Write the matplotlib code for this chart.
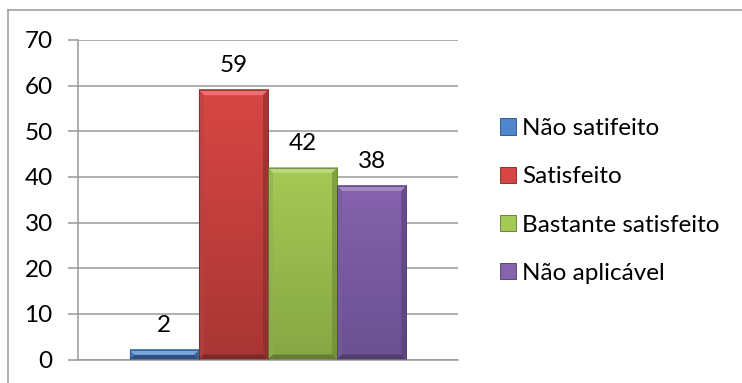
import numpy as np
import matplotlib.pyplot as plt
from matplotlib.patches import Polygon, Patch
from matplotlib.colors import to_rgb
from matplotlib.lines import Line2D

plt.rcParams['font.family'] = ['Lato', 'DejaVu Sans']

# Survey answers, one series per option
labels = ["Não satifeito", "Satisfeito", "Bastante satisfeito", "Não aplicável"]
values = [2, 59, 42, 38]
yticks = [0, 10, 20, 30, 40, 50, 60, 70]

# top / bottom shades of each bar face
face_top = ["#4F87CF", "#D84644", "#A5C955", "#8563AD"]
face_bot = ["#3C6BAA", "#A83634", "#86A744", "#6A5091"]

GRID = "#999999"
FS = 17.5


def shade(color, f):
    r = np.array(to_rgb(color))
    if f >= 0:
        return tuple(r + (1 - r) * f)
    return tuple(r * (1 + f))


def bevel_bar(ax, x0, w, h, ctop, cbot, bpx=5):
    # pixel -> data scale for the bevel edges
    p0 = ax.transData.transform((0, 0))
    p1 = ax.transData.transform((1, 1))
    bx = bpx / (p1[0] - p0[0])
    by = bpx / (p1[1] - p0[1])
    bx = min(bx, w / 2)
    by = min(by, h / 2)
    x1 = x0 + w
    # face with vertical gradient
    grad = np.linspace(0, 1, 64)[:, None]
    top = np.array(to_rgb(ctop))
    bot = np.array(to_rgb(cbot))
    img = (bot + (top - bot) * grad).reshape(64, 1, 3)
    ax.imshow(img, extent=(x0, x1, 0, h), origin="lower", aspect="auto", zorder=2)
    # bevel edges
    ax.add_patch(Polygon([(x0, h), (x1, h), (x1 - bx, h - by), (x0 + bx, h - by)],
                         closed=True, fc=shade(ctop, 0.25), ec="none", zorder=3))
    ax.add_patch(Polygon([(x0, 0), (x0 + bx, by), (x0 + bx, h - by), (x0, h)],
                         closed=True, fc=shade(cbot, 0.08), ec="none", alpha=0.6, zorder=3))
    ax.add_patch(Polygon([(x1, 0), (x1 - bx, by), (x1 - bx, h - by), (x1, h)],
                         closed=True, fc=shade(cbot, -0.2), ec="none", alpha=0.6, zorder=3))
    ax.add_patch(Polygon([(x0, 0), (x1, 0), (x1 - bx, by), (x0 + bx, by)],
                         closed=True, fc=shade(cbot, -0.25), ec="none", zorder=3))
    ax.add_patch(Polygon([(x0, 0), (x0, h), (x1, h), (x1, 0)], closed=True,
                         fc="none", ec=shade(cbot, -0.3), lw=0.5, zorder=4))


fig = plt.figure(figsize=(7.42, 3.83), dpi=100)
ax = fig.add_axes([78 / 742, 1 - 359.5 / 383, 380 / 742, 319.5 / 383])

n = len(values)
xpos = np.arange(n) - (n - 1) / 2
ax.set_xlim(-2.75, 2.75)
ax.set_ylim(0, 70)

for x, v, ct, cb in zip(xpos, values, face_top, face_bot):
    bevel_bar(ax, x - 0.5, 1.0, v, ct, cb)
    ax.annotate(str(v), (x, v), xytext=(0, 13), textcoords="offset points",
                ha="center", va="baseline", fontsize=FS, color="black")

ax.set_yticks(yticks)
ax.set_xticks([])
ax.yaxis.grid(True, color=GRID, lw=1.1)
ax.set_axisbelow(True)
for s in ["top", "right"]:
    ax.spines[s].set_visible(False)
for s in ["left", "bottom"]:
    ax.spines[s].set_color(GRID)
    ax.spines[s].set_linewidth(1.1)
ax.tick_params(axis="y", length=7.2, width=1.1, color=GRID, pad=11, labelsize=FS)

handles = [Patch(fc=ct, ec=shade(cb, -0.3), lw=0.6) for ct, cb in zip(face_top, face_bot)]
fig.legend(handles, labels, loc="center left", bbox_to_anchor=(500 / 742, 1 - 201 / 383),
           frameon=False, fontsize=FS, handlelength=0.66, handleheight=0.66,
           handletextpad=0.25, labelspacing=1.12, borderpad=0, borderaxespad=0)

# chart frame
fig.add_artist(Line2D([8 / 742, 1], [1 - 10 / 383, 1 - 10 / 383],
                      transform=fig.transFigure, color="#A0A0A0", lw=1.2))
fig.add_artist(Line2D([8 / 742, 8 / 742], [0, 1 - 10 / 383],
                      transform=fig.transFigure, color="#A0A0A0", lw=1.2))

fig.savefig("out.png", dpi=100)
